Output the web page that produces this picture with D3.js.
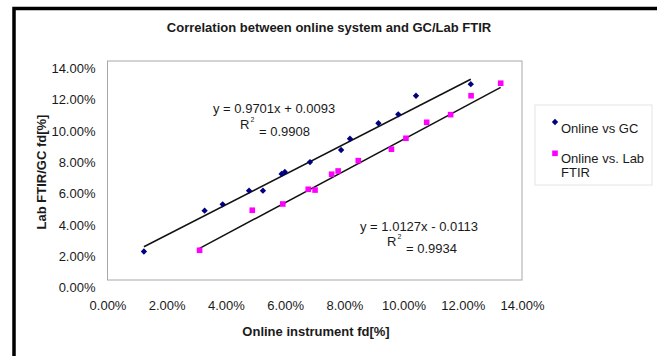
<!DOCTYPE html>
<html>
<head>
<meta charset="utf-8">
<style>
html, body {
  margin: 0px;
  padding: 0px;
  border: 0px;
  background: #fff;
}
svg text {
  font-family: "Liberation Sans", Arial, sans-serif;
  fill: #1a1a1a;
}
</style>
</head>
<body>
<div id="chart"></div>
<script src="https://cdn.jsdelivr.net/npm/d3@7"></script>
<script>
  // values (fractions, shown as %)
  var gcX = [0.0123, 0.0328, 0.0389, 0.0478, 0.0525, 0.0588, 0.0599, 0.0684, 0.0789, 0.0819, 0.0915, 0.0982, 0.1042, 0.1227];
  var gcY = [0.0182, 0.0443, 0.0484, 0.0571, 0.0571, 0.0678, 0.0691, 0.0754, 0.0831, 0.0903, 0.1002, 0.1059, 0.1178, 0.1252];
  var ftirX = [0.0311, 0.0489, 0.0592, 0.0678, 0.0701, 0.0757, 0.0779, 0.0847, 0.0959, 0.1008, 0.1078, 0.1159, 0.1228, 0.1328];
  var ftirY = [0.0190, 0.0446, 0.0486, 0.0580, 0.0575, 0.0676, 0.0697, 0.0763, 0.0836, 0.0906, 0.1008, 0.1057, 0.1178, 0.1258];

  var gcFit = {slope: 0.9701, intercept: 0.0093, eq: "y = 0.9701x + 0.0093", r2: "= 0.9908"};
  var ftirFit = {slope: 1.0127, intercept: -0.0113, eq: "y = 1.0127x - 0.0113", r2: "= 0.9934"};

  var xTicks = [0, 0.02, 0.04, 0.06, 0.08, 0.10, 0.12, 0.14];
  var yTicks = [0, 0.02, 0.04, 0.06, 0.08, 0.10, 0.12, 0.14];
  var legendNames = ["Online vs GC", "Online vs. Lab", "FTIR"];

  var W = 657, H = 356;
  var pct = d3.format(".2%");

  var svg = d3.select("#chart").append("svg")
    .attr("width", W)
    .attr("height", H);

  // scanned frame: thick black on left and top only
  svg.append("path")
    .attr("d", "M14,356 L14,8.5 L657,8.5")
    .attr("fill", "none")
    .attr("stroke", "#000")
    .attr("stroke-width", 3.5);

  var x = d3.scaleLinear().domain([0, 0.14]).range([107.5, 522]);
  var y = d3.scaleLinear().domain([0, 0.14]).range([280, 61]);

  // plot area
  svg.append("rect")
    .attr("x", x(0))
    .attr("y", y(0.14))
    .attr("width", x(0.14) - x(0))
    .attr("height", y(0) - y(0.14))
    .attr("fill", "#fff")
    .attr("stroke", "#a8a8a8")
    .attr("stroke-width", 1);

  svg.append("text")
    .attr("x", 329)
    .attr("y", 32)
    .attr("text-anchor", "middle")
    .attr("font-size", "13px")
    .attr("font-weight", "bold")
    .text("Correlation between online system and GC/Lab FTIR");

  // axes (no tick marks, only labels)
  var xAxis = svg.append("g")
    .attr("transform", "translate(0," + y(0) + ")")
    .call(d3.axisBottom(x).tickValues(xTicks).tickFormat(pct).tickSize(0));
  xAxis.select(".domain").remove();
  xAxis.selectAll("text")
    .attr("y", 26)
    .attr("dy", "0.32em")
    .attr("font-size", "13px")
    .attr("font-family", "Liberation Sans, Arial, sans-serif")
    .attr("fill", "#1a1a1a");

  var yAxis = svg.append("g")
    .attr("transform", "translate(" + x(0) + ",0)")
    .call(d3.axisLeft(y).tickValues(yTicks).tickFormat(pct).tickSize(0));
  yAxis.select(".domain").remove();
  yAxis.selectAll("text")
    .attr("x", -12)
    .attr("dy", "0.9em") // labels sit a bit below their lines in the original
    .attr("font-size", "13px")
    .attr("font-family", "Liberation Sans, Arial, sans-serif")
    .attr("fill", "#1a1a1a");

  svg.append("text")
    .attr("x", 316)
    .attr("y", 336)
    .attr("text-anchor", "middle")
    .attr("font-size", "13px")
    .attr("font-weight", "bold")
    .text("Online instrument fd[%]");

  svg.append("text")
    .attr("transform", "translate(46,172) rotate(-90)")
    .attr("text-anchor", "middle")
    .attr("font-size", "13px")
    .attr("font-weight", "bold")
    .text("Lab FTIR/GC fd[%]");

  // trend lines over each series' x range
  function trend(xs, fit) {
    var x0 = d3.min(xs), x1 = d3.max(xs);
    return [[x0, fit.slope * x0 + fit.intercept], [x1, fit.slope * x1 + fit.intercept]];
  }
  var line = d3.line().x(function (d) { return x(d[0]); }).y(function (d) { return y(d[1]); });

  svg.selectAll("path.trend")
    .data([trend(gcX, gcFit), trend(ftirX, ftirFit)])
    .enter()
    .append("path")
    .attr("class", "trend")
    .attr("d", line)
    .attr("fill", "none")
    .attr("stroke", "#111")
    .attr("stroke-width", 1.5);

  // small square turned 45 degrees, like Excel's diamond marker
  var diamond = d3.symbol().type(d3.symbolSquare).size(20);
  svg.selectAll("path.gc")
    .data(d3.zip(gcX, gcY))
    .enter()
    .append("path")
    .attr("class", "gc")
    .attr("d", diamond)
    .attr("transform", function (d) { return "translate(" + x(d[0]) + "," + y(d[1]) + ") rotate(45)"; })
    .attr("fill", "#000080");

  svg.selectAll("rect.ftir")
    .data(d3.zip(ftirX, ftirY))
    .enter()
    .append("rect")
    .attr("class", "ftir")
    .attr("x", function (d) { return x(d[0]) - 2.8; })
    .attr("y", function (d) { return y(d[1]) - 2.8; })
    .attr("width", 5.6)
    .attr("height", 5.6)
    .attr("fill", "#ff00ff");

  // regression labels, wrapped like the original (R with its superscript in one text)
  function eqLabel(fit, ex, ey, rx, ry) {
    var g = svg.append("g").attr("font-size", "13px");
    g.append("text").attr("x", ex).attr("y", ey).attr("dy", "0.35em").text(fit.eq);
    var r = g.append("text").attr("x", rx).attr("y", ry + 2).attr("dy", "0.35em").text("R");
    r.append("tspan").attr("font-size", "7px").attr("dx", 1).attr("dy", "-0.9em").text("2");
    g.append("text").attr("x", rx + 19).attr("y", ry + 9).attr("dy", "0.35em").text(fit.r2);
  }
  eqLabel(gcFit, 213, 108, 240, 122);
  eqLabel(ftirFit, 360, 226, 387, 239);

  // legend
  svg.append("rect")
    .attr("x", 535).attr("y", 105)
    .attr("width", 117).attr("height", 80)
    .attr("fill", "none")
    .attr("stroke", "#e4e4e4");

  svg.append("path")
    .attr("d", diamond)
    .attr("transform", "translate(555,122) rotate(45)")
    .attr("fill", "#000080");
  svg.append("rect")
    .attr("x", 552.2).attr("y", 150.5)
    .attr("width", 5.6).attr("height", 5.6)
    .attr("fill", "#ff00ff");

  svg.selectAll("text.legend")
    .data(legendNames)
    .enter()
    .append("text")
    .attr("class", "legend")
    .attr("x", 561)
    .attr("y", function (d, i) { return [128, 158, 172][i]; })
    .attr("dy", "0.35em")
    .attr("font-size", "13px")
    .text(function (d) { return d; });
</script>
</body>
</html>
